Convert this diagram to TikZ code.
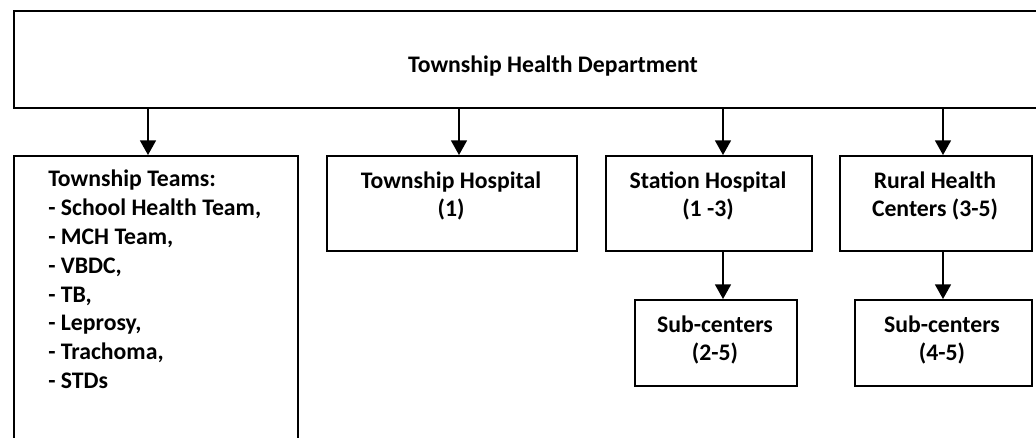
\documentclass[tikz,border=0pt]{standalone}
\usepackage{fontspec}
\setmainfont{Carlito}
\usetikzlibrary{arrows.meta}
\begin{document}
\begin{tikzpicture}[x=0.75pt,y=-0.75pt,
  box/.style={draw=black,line width=1.4pt,rectangle,inner sep=0pt,anchor=north west},
  lbl/.style={font=\fontsize{17.8}{21.6}\selectfont\bfseries,align=center,inner sep=0pt},
  arr/.style={line width=1.2pt,-{Triangle[length=11pt,width=12pt]}}]
\useasboundingbox (0,0) rectangle (1036,437);
\clip (0,0) rectangle (1036,437);
% boxes
\node[box,minimum width=1040*0.75pt,minimum height=97*0.75pt] (dept) at (13,10) {};
\node[box,minimum width=284*0.75pt,minimum height=300*0.75pt] (teams) at (13,155) {};
\node[box,minimum width=250*0.75pt,minimum height=95*0.75pt] (thosp) at (326,155) {};
\node[box,minimum width=206*0.75pt,minimum height=95*0.75pt] (shosp) at (605,155) {};
\node[box,minimum width=192*0.75pt,minimum height=95*0.75pt] (rural) at (839,155) {};
\node[box,minimum width=162*0.75pt,minimum height=86*0.75pt] (sub1) at (634,299) {};
\node[box,minimum width=177*0.75pt,minimum height=86*0.75pt] (sub2) at (854,299) {};
% texts
\node[lbl] (depttext) at (553,66) {Township Health Department};
\node[lbl,align=left,anchor=north west] (teamstext) at (48,170) {Township Teams:\\- School Health Team,\\- MCH Team,\\- VBDC,\\- TB,\\- Leprosy,\\- Trachoma,\\- STDs};
\node[lbl] (thosptext) at (451,196) {Township Hospital\\(1)};
\node[lbl] (shosptext) at (708,196) {Station Hospital\\(1 -3)};
\node[lbl] (ruraltext) at (935,196) {Rural Health\\Centers (3-5)};
\node[lbl] (sub1text) at (715,340) {Sub-centers\\(2-5)};
\node[lbl] (sub2text) at (942,340) {Sub-centers\\(4-5)};
% connectors
\draw[arr] (dept.south -| 148,0) -- (teams.north -| 148,0);
\draw[arr] (dept.south -| 459,0) -- (thosp.north -| 459,0);
\draw[arr] (dept.south -| 723,0) -- (shosp.north -| 723,0);
\draw[arr] (dept.south -| 943,0) -- (rural.north -| 943,0);
\draw[arr] (shosp.south -| 723,0) -- (sub1.north -| 723,0);
\draw[arr] (rural.south -| 943,0) -- (sub2.north -| 943,0);
\end{tikzpicture}
\end{document}
